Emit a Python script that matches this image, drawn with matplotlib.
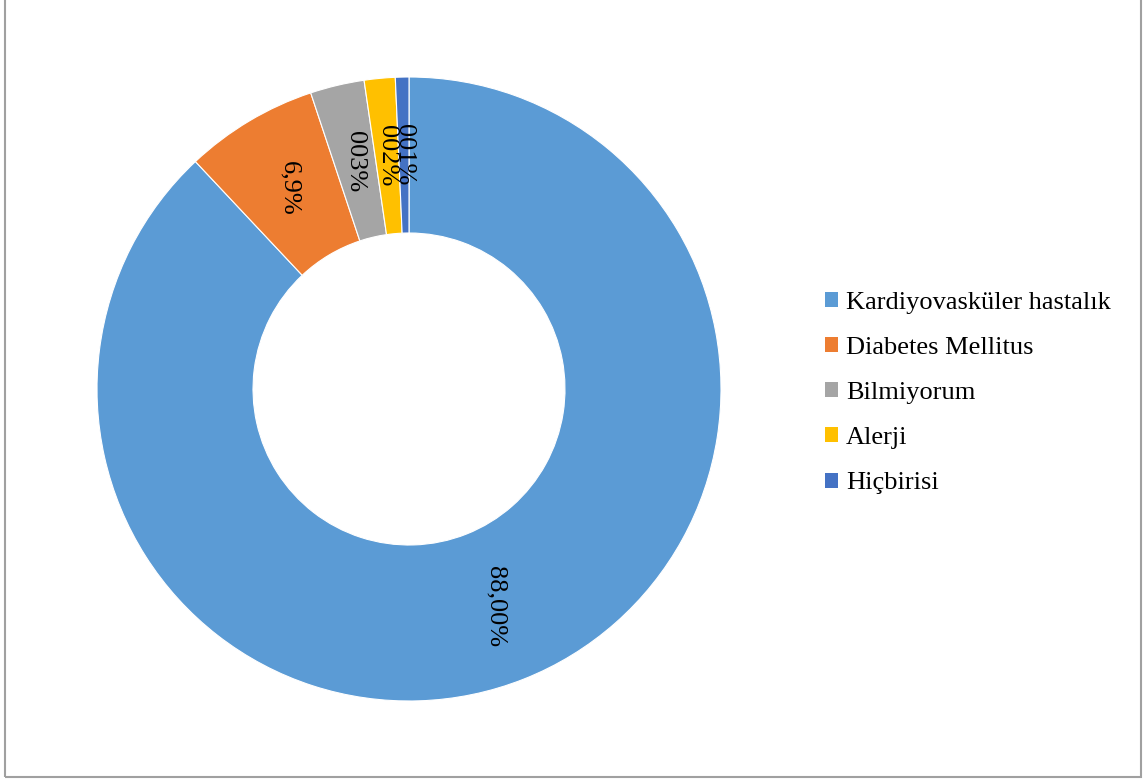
import matplotlib
matplotlib.use("Agg")
import matplotlib.pyplot as plt
from matplotlib.patches import Rectangle, Patch
import numpy as np

categories = ["Kardiyovasküler hastalık", "Diabetes Mellitus", "Bilmiyorum", "Alerji", "Hiçbirisi"]
values = [88.0, 6.9, 2.8, 1.6, 0.7]
value_labels = ["88,00%", "6,9%", "003%", "002%", "001%"]
colors = ["#5B9BD5", "#ED7D31", "#A5A5A5", "#FFC000", "#4472C4"]

plt.rcParams["font.family"] = ["Liberation Serif", "DejaVu Serif"]

W, H = 1147, 783
fig = plt.figure(figsize=(W / 100, H / 100), dpi=100)

# donut axes: centre (409, 389) px, outer radius 312 px
cx, cy, r = 409, 389, 312
ax = fig.add_axes([(cx - r) / W, (H - cy - r) / H, 2 * r / W, 2 * r / H])
wedges, _ = ax.pie(values, colors=colors, startangle=90, counterclock=False,
                   radius=1.0, wedgeprops=dict(width=0.5, edgecolor="white", linewidth=0.8))
ax.set_xlim(-1, 1)
ax.set_ylim(-1, 1)
ax.set_aspect("equal")
ax.axis("off")

for w, lab in zip(wedges, value_labels):
    ang = np.deg2rad((w.theta1 + w.theta2) / 2)
    rr = 0.75
    ax.text(rr * np.cos(ang), rr * np.sin(ang), lab, rotation=-90,
            ha="center", va="center", fontsize=19, color="black")

handles = [Patch(facecolor=c, edgecolor="none") for c in colors]
fig.legend(handles, categories, loc="center left", bbox_to_anchor=(825 / W, 1 - 393 / H),
           frameon=False, fontsize=19, handlelength=0.5, handleheight=0.5,
           handletextpad=0.3, labelspacing=0.88, borderaxespad=0, borderpad=0)

# outer frame
fig.patches.append(Rectangle((5 / W, (H - 777) / H), (1141 - 5) / W, 777 / H + 0.01,
                             transform=fig.transFigure, fill=False,
                             edgecolor="#a0a0a0", linewidth=1.5))

fig.savefig("out.png", dpi=100, facecolor="white")
